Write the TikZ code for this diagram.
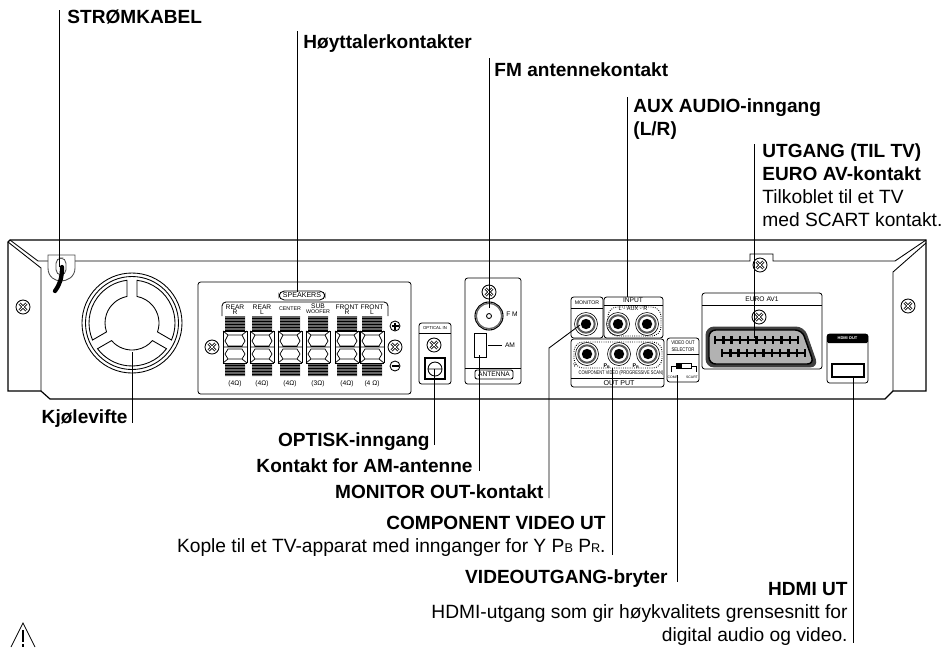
\documentclass[tikz,border=0pt]{standalone}
\usepackage{fontspec}
\setmainfont{Liberation Sans}
\def\leaders{
    cable/59/10/267,
    speaker/297/31/292,
    fmjack/489/58/308,
    aux/627/97/297,
    euro/754/144/338,
    fan/132/352/423,
    optical/434/369/445,
    amjack/479/355/471,
    component/612/368/555,
    selector/677/375/582,
    hdmi/853/377/643
}
\def\screws{
    23/307,
    212/347,
    395/347,
    434/345,
    489/292,
    759/317,
    760/265,
    908/306
}
\def\posts{
    235/REAR/R/4,
    262/REAR/L/4,
    290/{}/{}/4,
    318/{}/{}/3,
    347/FRONT/R/4,
    372/FRONT/L/4
}
\tikzset{
  screwmark/.pic={
    \draw[fill=white] (0,0) circle (7);
    \draw[line width=1.9pt] (-3.4,-3.4) -- (3.4,3.4) (-3.4,3.4) -- (3.4,-3.4);
    \draw[white, line width=.65pt] (-3.6,-3.6) -- (3.6,3.6) (-3.6,3.6) -- (3.6,-3.6);
  },
  jackmark/.pic={
    \draw[line width=.45pt] (0,0) circle (11.5);
    \draw[black!65, line width=1.5pt] (0,0) circle (8.7);
    \fill (0,0) circle (5.2);
  },
  postmark/.pic={
    % hatched clamps and the two bow shaped holes
    \fill[black!60] (-10,0) rectangle (10,14) (-10,47) rectangle (10,60);
    \foreach \s in {2,5,...,14} \draw[line width=.5pt] (-10,\s) -- (10,\s);
    \foreach \s in {49,52,...,60} \draw[line width=.5pt] (-10,\s) -- (10,\s);
    \draw[line width=.65pt] (-12,15) -- (12,15) (-12,47) -- (12,47) (-12,15) -- (-12,47) (12,15) -- (12,47);
    \draw[line width=.55pt] (-7,19) -- (7,19) -- (10,25) -- (7,30) -- (-7,30) -- (-10,25) -- cycle
      (-7,33) -- (7,33) -- (10,38) -- (7,43) -- (-7,43) -- (-10,38) -- cycle
      (-12,15) -- (-7,19) (12,15) -- (7,19) (-12,47) -- (-7,43) (12,47) -- (7,43)
      (-12,31) -- (12,31);
  }
}
\begin{document}
\begin{tikzpicture}[
    x=0.75pt, y=-0.75pt, line width=.65pt,
    every node/.style={inner sep=0pt},
    lab/.style={font=\fontsize{14.3}{17}\selectfont\bfseries},
    txt/.style={font=\fontsize{14.4}{17}\selectfont},
    tag/.style={font=\fontsize{5}{5}\selectfont},
    tiny/.style={font=\fontsize{4}{4}\selectfont},
    wee/.style={font=\fontsize{2.6}{3}\selectfont},
    panel/.style={rounded corners=2pt, line width=.6pt}
]
  \useasboundingbox (0,0) rectangle (944,647);

  % chassis
  \draw[line width=.9pt] (8,242) -- (8,391) -- (41,391) -- (50,399) -- (885,399) -- (893,391)
    -- (926,391) -- (926,240) -- (10,240) -- cycle;
  \draw (8,242) -- (41,268) -- (41,391);
  \draw (10,240) -- (38,261) -- (48,261);
  \draw (75,261) -- (750,261) -- (750,254) -- (773,254) -- (773,261) -- (895,261) -- (926,240);
  \draw (926,243) -- (893,272) -- (893,391);

  % mains cord
  \draw[black!70] (48,261) -- (48,255) -- (75,255) -- (75,268)
    .. controls (75,277) and (67,281) .. (61,281) .. controls (55,281) and (48,277) .. (48,268) -- cycle;
  \draw[rounded corners=4pt, black!70] (56,258) rectangle (66,275);
  \draw[line width=3.2pt, line cap=round] (62,267) .. controls (62,278) and (60,284) .. (55,291);

  % fan
  \draw (132,323) circle (50) circle (46.5);
  \begin{scope}[shift={(132,323)}]
    \foreach \p in {-90,30,150}
      \draw (\p+6.7:43) arc[start angle=\p+6.7, end angle=\p+113.3, radius=43]
        -- (\p+109.3:27) arc[start angle=\p+109.3, end angle=\p+10.7, radius=27] -- cycle;
  \end{scope}

  % speaker panel
  \draw[panel] (198,282) rectangle (411,394);
  \draw[rounded corners=4pt, fill=white] (279,291) rectangle (325,300);
  \node[font=\fontsize{5.3}{5}\selectfont] (spklabel) at (302,295.5) {SPEAKERS};
  \draw[rounded corners=3pt] (222,316) -- (222,302) -- (388,302) -- (388,316);
  \foreach \x/\a/\b/\o [count=\i] in \posts {
    \pic at (\x,316) {postmark};
    \node[tag] (up\i) at (\x,307) {\a};
    \node[tag] (lo\i) at (\x,312) {\b};
    \node[tag] (ohm\i) at (\x,384) {(\o Ω)};
  }
  \node[tiny] (center) at (290,309) {CENTER};
  \node[tag] (sub) at (318,306) {SUB};
  \node[tiny] (woofer) at (318,312) {WOOFER};
  \draw (395,326) circle (5) (395,366) circle (5);
  \draw[line width=.9pt] (391.5,326) -- (398.5,326) (395,322.5) -- (395,329.5) (391.5,366) -- (398.5,366);

  % optical input
  \draw[panel] (419,323) rectangle (451,384);
  \draw (419,333) -- (451,333);
  \node[font=\fontsize{3.2}{4}\selectfont] (optin) at (435,328) {OPTICAL IN};
  \draw[line width=.9pt] (425,358) rectangle (445,379);
  \draw (435,369) circle (7) (428,369) -- (442,369);

  % antenna
  \draw[panel] (465,278) rectangle (521,384);
  \draw[line width=.8pt] (489,316) circle (14);
  \draw[black!60, line width=1pt] (489,316) circle (12.7);
  \draw (489,316) circle (2.5);
  \node[tag] (fmtag) at (512,314) {F M};
  \draw[line width=.7pt] (474,333) rectangle (486,357);
  \coordinate (ama) at (488,345);
  \coordinate (amb) at (502,345);
  \draw (ama) -- (amb);
  \node[tag] (amtag) at (510,345) {AM};
  \draw (465,368) -- (521,368);
  \draw[rounded corners=1.5pt] (475,370) rectangle (513,379);
  \node[tag] (anttag) at (494,374.5) {ANTENNA};

  % monitor, input, output
  \draw[panel] (571,297) rectangle (603,338);
  \draw (571,308) -- (603,308);
  \node[font=\fontsize{3.9}{4}\selectfont] (montag) at (587,303) {MONITOR};
  \draw[panel] (604,338) -- (604,297) -- (663,297) -- (663,338) -- cycle;
  \draw (604,305) -- (663,305);
  \node[tag] (intag) at (633,300.5) {INPUT};
  \node[font=\fontsize{4.2}{4}\selectfont] (auxtag) at (633,309) {L - AUX - R};
  \draw[densely dotted, rounded corners=7pt] (608,307) rectangle (661,336);
  \draw[panel] (571,339) rectangle (664,387);
  \draw (571,378) -- (664,378);
  \node[font=\fontsize{5.3}{5}\selectfont] (outtag) at (619,383) {OUT PUT};
  \draw[densely dotted, rounded corners=7pt] (574,342) rectangle (662,368);
  \node[font=\fontsize{4}{4}\selectfont] (comptag) at (621,373) {\scalebox{.75}[1]{COMPONENT VIDEO (PROGRESSIVE SCAN)}};
  \node[tiny] (ytag) at (575,366) {Y};
  \node[font=\fontsize{4}{4}\selectfont\bfseries] (pbtag) at (607,366) {P\textsubscript{B}};
  \node[font=\fontsize{4}{4}\selectfont\bfseries] (prtag) at (636,366) {P\textsubscript{R}};
  \foreach \x/\y in {586/324, 618/324, 647/324, 587/354, 619/354, 648/354}
    \pic at (\x,\y) {jackmark};

  % selector
  \draw[panel] (667,338) rectangle (699,382);
  \draw (667,354) -- (699,354);
  \node[font=\fontsize{4}{4}\selectfont] (seltag) at (683,342.5) {\scalebox{.8}[1]{VIDEO OUT}};
  \node[font=\fontsize{4}{4}\selectfont] (seltagb) at (683,350) {\scalebox{.8}[1]{SELECTOR}};
  \draw (676,363) rectangle (691,368);
  \fill (676,363) rectangle (682,368);
  \draw (671,372) -- (671,366) -- (676,366) (691,366) -- (696,366) -- (696,372);
  \node[wee] (comp) at (673,377) {COMP.};
  \node[wee] (scart) at (692,377) {SCART};

  % euro connector
  \draw[panel] (702,293) rectangle (822,369);
  \draw (702,305) -- (822,305);
  \node[tag] (eurotag) at (762,299) {EURO AV1};
  \draw[rounded corners=6pt, fill=black!30, black!75, line width=.7pt]
    (706,327) -- (804,327) -- (818,367) -- (706,367) -- cycle;
  \draw[rounded corners=5pt, fill=black!30, line width=1.1pt]
    (709,330) -- (802,330) -- (814,364) -- (709,364) -- cycle;
  \draw[line width=1.4pt] (714,340) -- (799,340) (721,353) -- (806,353);
  \foreach \i in {0,...,10} {
    \draw[line width=1.8pt] (715+8.3*\i,336) -- (715+8.3*\i,344);
    \draw[line width=1.8pt] (722+8.3*\i,349) -- (722+8.3*\i,357);
  }

  % hdmi
  \draw[panel] (827,334) rectangle (868,383);
  \fill[rounded corners=1pt] (827,334) rectangle (868,343);
  \node[font=\fontsize{3}{3}\selectfont\bfseries, text=white] (hdmitag) at (847.5,338.5) {HDMI OUT};
  \draw[line width=1.5pt] (832,364) rectangle (864,377);

  \foreach \x/\y in \screws
    \pic at (\x,\y) {screwmark};

  % leaders
  \foreach \n/\x/\a/\b in \leaders {
    \coordinate (\n a) at (\x,\a);
    \coordinate (\n b) at (\x,\b);
    \draw (\n a) -- (\n b);
  }
  \coordinate (mona) at (580,325);
  \coordinate (monb) at (549,348);
  \coordinate (monc) at (549,498);
  \draw (mona) -- (monb) -- (monc);

  % labels
  \node[lab, anchor=base west] (strom) at (67,23.3) {STRØMKABEL};
  \node[lab, anchor=base west] (hoyt) at (303,48) {Høyttalerkontakter};
  \node[lab, anchor=base west] (fmant) at (494,76.7) {FM antennekontakt};
  \node[lab, anchor=base west] (auxa) at (633,112) {AUX AUDIO-inngang};
  \node[lab, anchor=base west] (auxb) at (633,135) {(L/R)};
  \node[lab, anchor=base west] (utg) at (762,157) {UTGANG (TIL TV)};
  \node[lab, anchor=base west] (eurok) at (762,180) {EURO AV-kontakt};
  \node[txt, anchor=base west] (tilk) at (762,203) {Tilkoblet til et TV};
  \node[txt, anchor=base west] (medsc) at (762,226) {med SCART kontakt.};
  \node[lab, anchor=base east] (kjol) at (128,423) {Kjølevifte};
  \node[lab, anchor=base east] (opt) at (430,446) {OPTISK-inngang};
  \node[lab, anchor=base east] (amk) at (473,472) {Kontakt for AM-antenne};
  \node[lab, anchor=base east] (monk) at (544,498) {MONITOR OUT-kontakt};
  \node[lab, anchor=base east] (cvid) at (606,529) {COMPONENT VIDEO UT};
  \node[txt, anchor=base east] (kople) at (606,552) {Kople til et TV-apparat med innganger for Y P{\fontsize{9.5}{10}\selectfont B} P{\fontsize{9.5}{10}\selectfont R}.};
  \node[lab, anchor=base east] (vbry) at (668,583) {VIDEOUTGANG-bryter};
  \node[lab, anchor=base east] (hdmik) at (848,595) {HDMI UT};
  \node[txt, anchor=base east] (hdmia) at (848,618) {HDMI-utgang som gir høykvalitets grensesnitt for};
  \node[txt, anchor=base east] (hdmib) at (848,641) {digital audio og video.};

  % caution mark
  \draw (11,647) -- (23,623) -- (35,647);
  \draw[line width=1pt] (23,630) -- (23,642) (23,644) -- (23,647);
\end{tikzpicture}
\end{document}
